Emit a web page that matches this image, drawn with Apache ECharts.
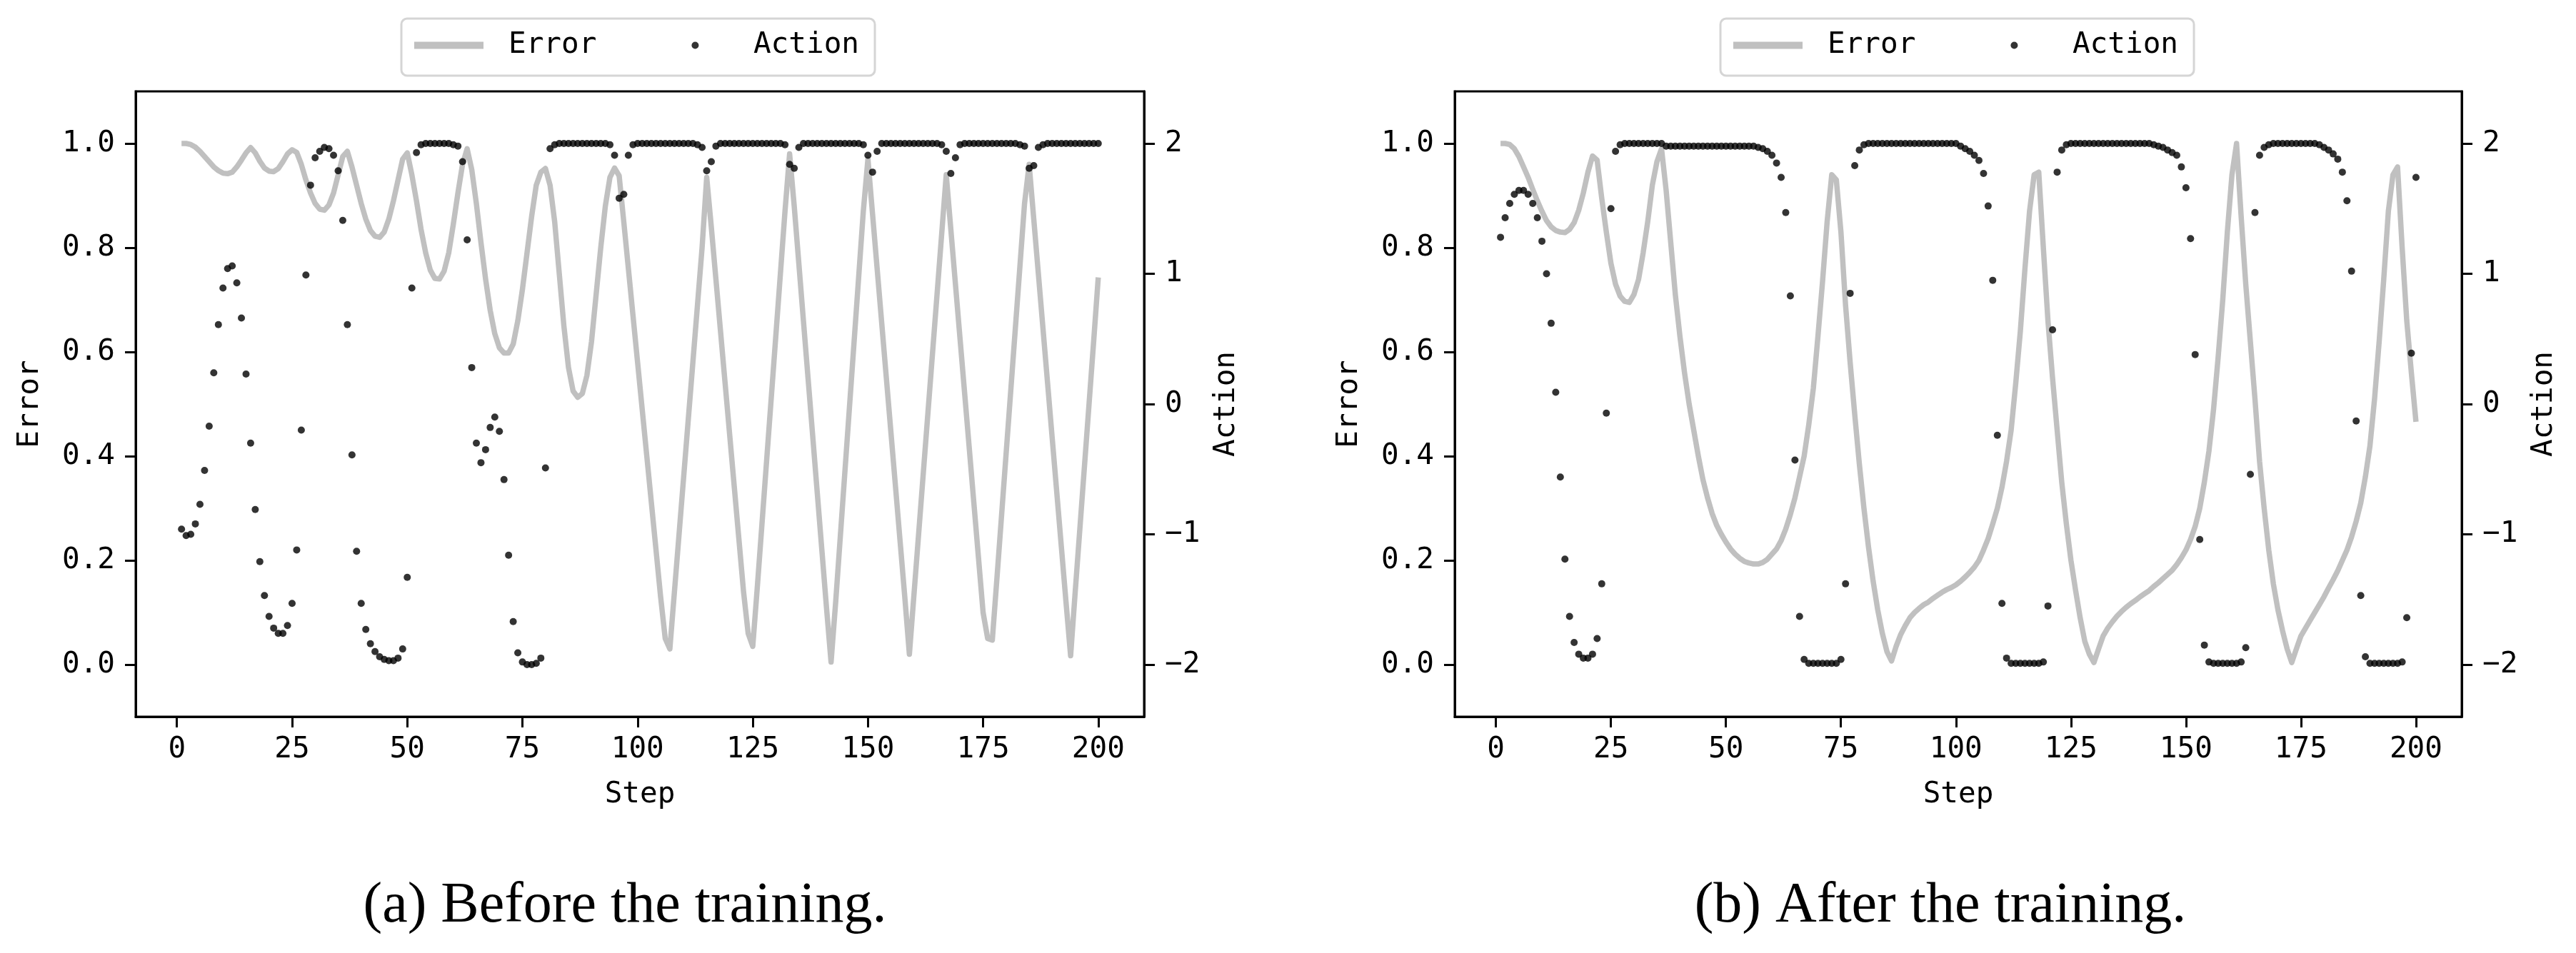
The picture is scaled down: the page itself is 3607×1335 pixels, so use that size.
<!DOCTYPE html>
<html><head><meta charset="utf-8">
<script src="https://cdn.jsdelivr.net/npm/echarts@6/dist/echarts.min.js"></script>
<style>html,body{margin:0;padding:0;background:#fff}#c{width:3607px;height:1335px}</style>
</head><body><div id="c"></div>
<script>
// ---------- data ----------
const stepStart = 1; // first step of each run (steps 1..200)

const errorA = [
1.000,1.000,0.998,0.993,0.985,0.975,0.965,0.955,0.948,0.943,
0.942,0.945,0.955,0.968,0.982,0.992,0.982,0.966,0.953,0.947,
0.946,0.952,0.965,0.980,0.988,0.983,0.960,0.930,0.905,0.885,
0.874,0.872,0.882,0.905,0.940,0.975,0.985,0.955,0.920,0.885,
0.855,0.833,0.822,0.820,0.830,0.855,0.890,0.930,0.970,0.982,
0.940,0.890,0.835,0.790,0.757,0.741,0.740,0.755,0.790,0.845,
0.905,0.960,0.990,0.950,0.885,0.810,0.740,0.680,0.635,0.608,
0.598,0.598,0.615,0.660,0.720,0.790,0.860,0.920,0.945,0.952,
0.920,0.850,0.750,0.650,0.570,0.525,0.513,0.520,0.555,0.620,
0.710,0.800,0.880,0.935,0.953,0.938,0.850,0.760,0.670,0.580,
0.490,0.400,0.310,0.220,0.130,0.050,0.030,0.140,0.250,0.360,
0.470,0.580,0.690,0.800,0.935,0.840,0.740,0.640,0.540,0.440,
0.340,0.240,0.140,0.060,0.035,0.150,0.270,0.390,0.510,0.630,
0.750,0.870,0.980,0.880,0.770,0.660,0.550,0.440,0.330,0.220,
0.110,0.005,0.120,0.245,0.370,0.495,0.620,0.745,0.870,0.970,
0.865,0.760,0.655,0.550,0.445,0.340,0.235,0.130,0.020,0.135,
0.250,0.365,0.480,0.595,0.710,0.825,0.940,0.835,0.730,0.625,
0.520,0.415,0.310,0.205,0.100,0.050,0.047,0.165,0.285,0.405,
0.525,0.645,0.765,0.885,0.960,0.855,0.750,0.645,0.540,0.435,
0.330,0.225,0.120,0.017,0.140,0.260,0.380,0.500,0.620,0.743
];

const actionA = [
-0.96,-1.01,-1.00,-0.92,-0.77,-0.51,-0.17,0.24,0.61,0.89,
1.04,1.06,0.93,0.66,0.23,-0.30,-0.81,-1.21,-1.47,-1.63,
-1.72,-1.76,-1.76,-1.70,-1.53,-1.12,-0.20,0.99,1.68,1.89,
1.94,1.97,1.96,1.91,1.79,1.41,0.61,-0.39,-1.13,-1.53,
-1.73,-1.84,-1.90,-1.94,-1.96,-1.97,-1.97,-1.95,-1.88,-1.33,
0.89,1.93,1.99,2.00,2.00,2.00,2.00,2.00,2.00,1.99,
1.98,1.86,1.26,0.28,-0.30,-0.45,-0.35,-0.18,-0.10,-0.21,
-0.58,-1.16,-1.67,-1.91,-1.98,-2.00,-2.00,-1.99,-1.95,-0.49,
1.96,1.99,2.00,2.00,2.00,2.00,2.00,2.00,2.00,2.00,
2.00,2.00,2.00,1.99,1.91,1.58,1.61,1.91,1.99,2.00,
2.00,2.00,2.00,2.00,2.00,2.00,2.00,2.00,2.00,2.00,
2.00,2.00,1.99,1.97,1.79,1.86,1.98,2.00,2.00,2.00,
2.00,2.00,2.00,2.00,2.00,2.00,2.00,2.00,2.00,2.00,
2.00,1.99,1.84,1.81,1.97,2.00,2.00,2.00,2.00,2.00,
2.00,2.00,2.00,2.00,2.00,2.00,2.00,2.00,1.99,1.91,
1.78,1.94,2.00,2.00,2.00,2.00,2.00,2.00,2.00,2.00,
2.00,2.00,2.00,2.00,2.00,1.99,1.94,1.77,1.89,1.99,
2.00,2.00,2.00,2.00,2.00,2.00,2.00,2.00,2.00,2.00,
2.00,2.00,1.99,1.98,1.81,1.83,1.97,1.99,2.00,2.00,
2.00,2.00,2.00,2.00,2.00,2.00,2.00,2.00,2.00,2.00
];

const errorB = [
1.000,1.000,0.998,0.990,0.975,0.955,0.935,0.912,0.890,0.870,
0.852,0.840,0.833,0.830,0.829,0.835,0.848,0.872,0.905,0.945,
0.976,0.968,0.895,0.830,0.770,0.730,0.707,0.697,0.695,0.710,
0.739,0.790,0.850,0.920,0.965,0.990,0.910,0.810,0.710,0.630,
0.560,0.500,0.450,0.400,0.355,0.320,0.290,0.267,0.250,0.235,
0.222,0.212,0.204,0.198,0.195,0.193,0.193,0.196,0.202,0.212,
0.222,0.238,0.260,0.288,0.320,0.360,0.400,0.460,0.530,0.630,
0.735,0.850,0.940,0.930,0.830,0.690,0.580,0.480,0.385,0.300,
0.225,0.160,0.105,0.060,0.025,0.007,0.035,0.058,0.075,0.090,
0.100,0.108,0.115,0.120,0.127,0.133,0.139,0.144,0.148,0.153,
0.160,0.168,0.177,0.187,0.200,0.220,0.242,0.270,0.300,0.340,
0.390,0.450,0.540,0.640,0.760,0.870,0.940,0.945,0.800,0.660,
0.550,0.450,0.350,0.270,0.200,0.143,0.090,0.045,0.020,0.004,
0.030,0.055,0.070,0.082,0.093,0.102,0.110,0.117,0.123,0.130,
0.136,0.142,0.150,0.157,0.165,0.173,0.181,0.192,0.205,0.220,
0.240,0.265,0.300,0.350,0.410,0.490,0.590,0.700,0.830,0.940,
1.000,0.860,0.730,0.620,0.510,0.390,0.300,0.220,0.155,0.105,
0.065,0.030,0.004,0.030,0.055,0.070,0.085,0.100,0.115,0.130,
0.147,0.163,0.180,0.200,0.220,0.245,0.275,0.310,0.360,0.420,
0.510,0.620,0.740,0.870,0.940,0.955,0.800,0.660,0.560,0.466
];

const actionB = [
1.28,1.43,1.54,1.61,1.64,1.64,1.61,1.54,1.43,1.25,
1.00,0.62,0.09,-0.56,-1.19,-1.63,-1.83,-1.92,-1.95,-1.95,
-1.92,-1.80,-1.38,-0.07,1.50,1.94,1.99,2.00,2.00,2.00,
2.00,2.00,2.00,2.00,2.00,2.00,1.98,1.98,1.98,1.98,
1.98,1.98,1.98,1.98,1.98,1.98,1.98,1.98,1.98,1.98,
1.98,1.98,1.98,1.98,1.98,1.98,1.97,1.96,1.94,1.91,
1.85,1.74,1.47,0.83,-0.43,-1.63,-1.96,-1.99,-1.99,-1.99,
-1.99,-1.99,-1.99,-1.99,-1.96,-1.38,0.85,1.83,1.95,1.99,
2.00,2.00,2.00,2.00,2.00,2.00,2.00,2.00,2.00,2.00,
2.00,2.00,2.00,2.00,2.00,2.00,2.00,2.00,2.00,2.00,
1.98,1.96,1.94,1.91,1.87,1.77,1.52,0.95,-0.24,-1.53,
-1.95,-1.99,-1.99,-1.99,-1.99,-1.99,-1.99,-1.99,-1.98,-1.55,
0.57,1.78,1.95,1.99,2.00,2.00,2.00,2.00,2.00,2.00,
2.00,2.00,2.00,2.00,2.00,2.00,2.00,2.00,2.00,2.00,
2.00,2.00,1.99,1.98,1.97,1.95,1.93,1.91,1.82,1.66,
1.27,0.38,-1.04,-1.85,-1.98,-1.99,-1.99,-1.99,-1.99,-1.99,
-1.99,-1.98,-1.87,-0.54,1.47,1.91,1.97,1.99,2.00,2.00,
2.00,2.00,2.00,2.00,2.00,2.00,2.00,2.00,1.99,1.97,
1.95,1.92,1.88,1.78,1.56,1.02,-0.13,-1.47,-1.94,-1.99,
-1.99,-1.99,-1.99,-1.99,-1.99,-1.99,-1.98,-1.64,0.39,1.74
];

const stepTicks = [0, 25, 50, 75, 100, 125, 150, 175, 200];
const errorTicks = [0.0, 0.2, 0.4, 0.6, 0.8, 1.0];
const actionTicks = [-2, -1, 0, 1, 2];
const captions = ['(a) Before the training.', '(b) After the training.'];
const seriesNames = ['Error', 'Action'];
const axisNames = { x: 'Step', left: 'Error', right: 'Action' };

// ---------- styling / layout ----------
const MONO = 'DejaVu Sans Mono';
const FS = 41;
const panels = [
  { grid: { left: 190, top: 128, width: 1412, height: 876 }, legendLeft: 562, captionX: 875, err: errorA, act: actionA },
  { grid: { left: 2037, top: 128, width: 1410, height: 876 }, legendLeft: 2409, captionX: 2717, err: errorB, act: actionB }
];

function pairs(arr) { return arr.map((v, i) => [i + stepStart, v]); }
const tickStyle = { show: true, inside: false, length: 15, lineStyle: { color: '#000', width: 3 } };
const lineAxis = { show: true, onZero: false, lineStyle: { color: '#000', width: 3 } };
const lblStyle = { color: '#000', fontFamily: MONO, fontSize: FS };
const nameStyle = { color: '#000', fontFamily: MONO, fontSize: FS };
const minus = v => String(v).replace('-', '\u2212');

const grids = [], xAxes = [], yAxes = [], series = [], legends = [], graphics = [];
panels.forEach((p, gi) => {
  grids.push(Object.assign({ show: true, borderColor: '#000', borderWidth: 3, backgroundColor: '#fff', containLabel: false, outerBoundsMode: 'none' }, p.grid));
  xAxes.push({
    type: 'value', gridIndex: gi, min: -8.95, max: 209.95,
    axisLine: lineAxis,
    axisTick: Object.assign({ customValues: stepTicks }, tickStyle),
    axisLabel: Object.assign({ customValues: stepTicks, margin: 26, showMinLabel: true, showMaxLabel: true }, lblStyle),
    splitLine: { show: false },
    name: axisNames.x, nameLocation: 'middle', nameGap: 89, nameTextStyle: nameStyle
  });
  yAxes.push({
    type: 'value', gridIndex: gi, position: 'left', min: -0.1, max: 1.1,
    axisLine: lineAxis,
    axisTick: Object.assign({ customValues: errorTicks }, tickStyle),
    axisLabel: Object.assign({ customValues: errorTicks, margin: 29, formatter: v => v.toFixed(1) }, lblStyle),
    splitLine: { show: false },
    name: axisNames.left, nameLocation: 'middle', nameRotate: 90, nameGap: 127, nameTextStyle: nameStyle
  });
  yAxes.push({
    type: 'value', gridIndex: gi, position: 'right', min: -2.4, max: 2.4,
    axisLine: lineAxis,
    axisTick: Object.assign({ customValues: actionTicks }, tickStyle),
    axisLabel: Object.assign({ customValues: actionTicks, margin: 29, formatter: minus }, lblStyle),
    splitLine: { show: false },
    name: axisNames.right, nameLocation: 'middle', nameRotate: 90, nameGap: 95, nameTextStyle: nameStyle
  });
  series.push({
    type: 'line', name: seriesNames[0], xAxisIndex: gi, yAxisIndex: 2 * gi,
    data: pairs(p.err), symbol: 'none', showSymbol: false,
    lineStyle: { color: '#c0c0c0', width: 7.5, join: 'round', cap: 'butt' },
    itemStyle: { color: '#c0c0c0' }, z: 2
  });
  series.push({
    type: 'scatter', name: seriesNames[1], xAxisIndex: gi, yAxisIndex: 2 * gi + 1,
    data: pairs(p.act), symbol: 'circle', symbolSize: 10,
    itemStyle: { color: '#000' }, z: 3
  });
  legends.push({
    left: p.legendLeft, top: 26, orient: 'horizontal',
    padding: [17, 22, 22, 18], itemGap: 133, itemWidth: 97, itemHeight: 10,
    backgroundColor: '#fff', borderColor: '#d5d5d5', borderWidth: 3, borderRadius: 8,
    selectedMode: false,
    data: [
      { name: seriesNames[0], icon: 'rect', itemStyle: { color: '#c0c0c0' }, textStyle: { padding: [0, 0, 0, 30] } },
      { name: seriesNames[1], icon: 'circle', itemStyle: { color: '#000' }, textStyle: { padding: [0, 0, 0, 28] } }
    ],
    textStyle: { color: '#000', fontFamily: MONO, fontSize: FS }
  });
  graphics.push({
    type: 'text', x: p.captionX, y: 1270,
    style: { text: captions[gi], fill: '#000', fontFamily: 'Liberation Serif', fontSize: 80, align: 'center', verticalAlign: 'middle' }
  });
});

const chart = echarts.init(document.getElementById('c'), null, { renderer: 'canvas' });
chart.setOption({
  animation: false,
  backgroundColor: '#fff',
  grid: grids, xAxis: xAxes, yAxis: yAxes, series: series, legend: legends, graphic: graphics
});
</script></body></html>
